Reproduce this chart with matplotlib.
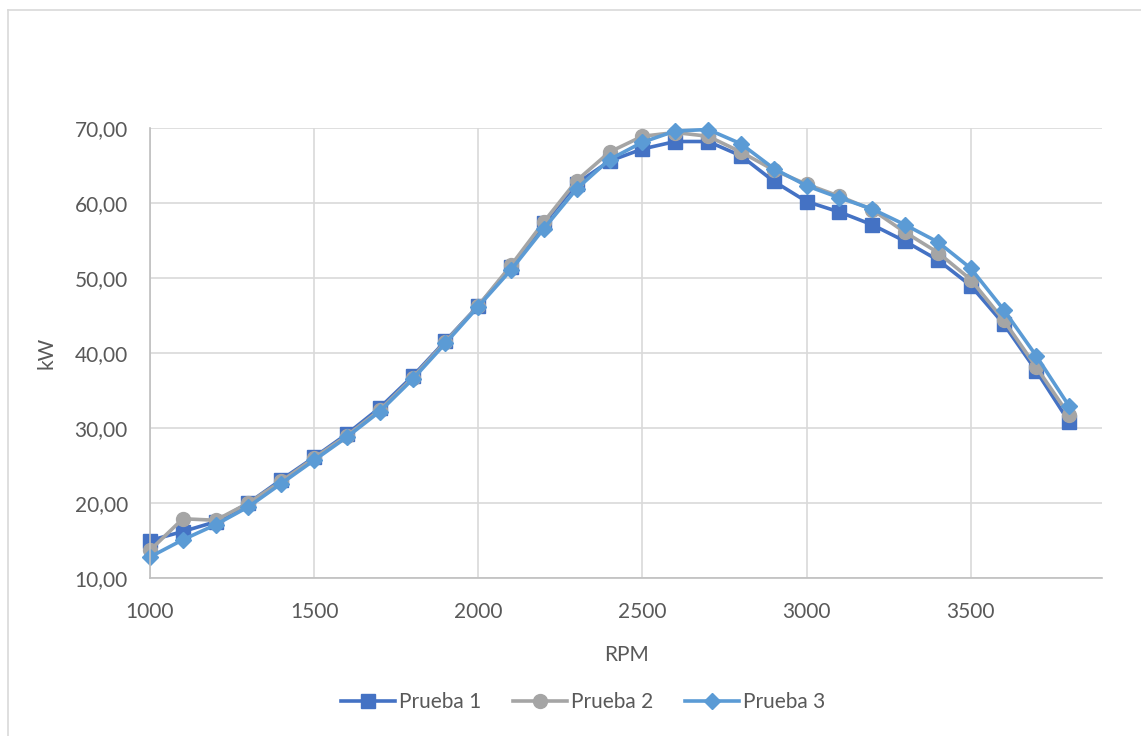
import matplotlib
matplotlib.use("Agg")
import matplotlib.pyplot as plt
from matplotlib.lines import Line2D
from matplotlib.ticker import FuncFormatter

# Datos
rpm = list(range(1000, 3900, 100))
prueba_1 = [15.0, 16.2, 17.5, 20.0, 23.1, 26.1, 29.2, 32.7, 36.9, 41.6, 46.3, 51.5, 57.3, 62.6, 65.6,
            67.2, 68.2, 68.2, 66.3, 62.9, 60.2, 58.8, 57.1, 54.9, 52.4, 49.0, 43.9, 37.6, 30.8]
prueba_2 = [13.7, 17.9, 17.7, 20.0, 22.9, 26.0, 29.0, 32.4, 36.7, 41.5, 46.3, 51.7, 57.5, 63.0, 66.8,
            68.9, 69.4, 68.9, 66.8, 64.4, 62.5, 60.9, 59.1, 56.1, 53.4, 49.8, 44.4, 38.1, 31.7]
prueba_3 = [12.8, 15.1, 17.1, 19.5, 22.6, 25.7, 28.8, 32.2, 36.5, 41.3, 46.2, 51.1, 56.6, 61.9, 65.8,
            68.1, 69.6, 69.8, 67.9, 64.6, 62.3, 60.7, 59.2, 57.1, 54.8, 51.3, 45.8, 39.6, 32.9]
nombres = ["Prueba 1", "Prueba 2", "Prueba 3"]

colores = ["#4472C4", "#A5A5A5", "#5B9BD5"]
marcadores = ["s", "o", "D"]
tamanos = [10, 10, 8]
gris_texto = "#595959"

plt.rcParams["font.family"] = ["Lato", "DejaVu Sans"]

fig = plt.figure(figsize=(11.41, 7.36), dpi=100)
ax = fig.add_axes([150 / 1141, 1 - 578 / 736, 952 / 1141, 450 / 736])

for serie, nombre, c, m, ms in zip([prueba_1, prueba_2, prueba_3], nombres, colores, marcadores, tamanos):
    ax.plot(rpm, serie, color=c, lw=2.6, marker=m, ms=ms, mfc=c, mec=c, label=nombre, clip_on=False)

ax.set_xlim(1000, 3900)
ax.set_ylim(10, 70)
ax.set_xticks(range(1000, 4000, 500))
ax.set_yticks(range(10, 80, 10))
ax.yaxis.set_major_formatter(FuncFormatter(lambda v, p: f"{v:.2f}".replace(".", ",")))

ax.grid(True, color="#D9D9D9", lw=1.2)
ax.set_axisbelow(True)
for s in ["top", "right"]:
    ax.spines[s].set_visible(False)
for s in ["left", "bottom"]:
    ax.spines[s].set_color("#BFBFBF")
    ax.spines[s].set_linewidth(1.2)
ax.tick_params(length=0, labelsize=15, labelcolor=gris_texto)
ax.tick_params(axis="y", pad=16)
ax.tick_params(axis="x", pad=17)

ax.set_xlabel("RPM", fontsize=15, color=gris_texto, labelpad=17)
ax.set_ylabel("kW", fontsize=15, color=gris_texto, labelpad=13)

leg = ax.legend(loc="center", bbox_to_anchor=(0.511, 0.046), bbox_transform=fig.transFigure,
                ncol=3, frameon=False, fontsize=15, handlelength=2.6, columnspacing=1.5,
                handletextpad=0.2)
for t in leg.get_texts():
    t.set_color(gris_texto)

# borde del area del grafico (recortado a la derecha y abajo)
fig.add_artist(Line2D([8 / 1141, 1], [1 - 10 / 736, 1 - 10 / 736], color="#D9D9D9", lw=1.2,
                      transform=fig.transFigure))
fig.add_artist(Line2D([8 / 1141, 8 / 1141], [0, 1 - 10 / 736], color="#D9D9D9", lw=1.2,
                      transform=fig.transFigure))

plt.savefig("out.png", dpi=100)
